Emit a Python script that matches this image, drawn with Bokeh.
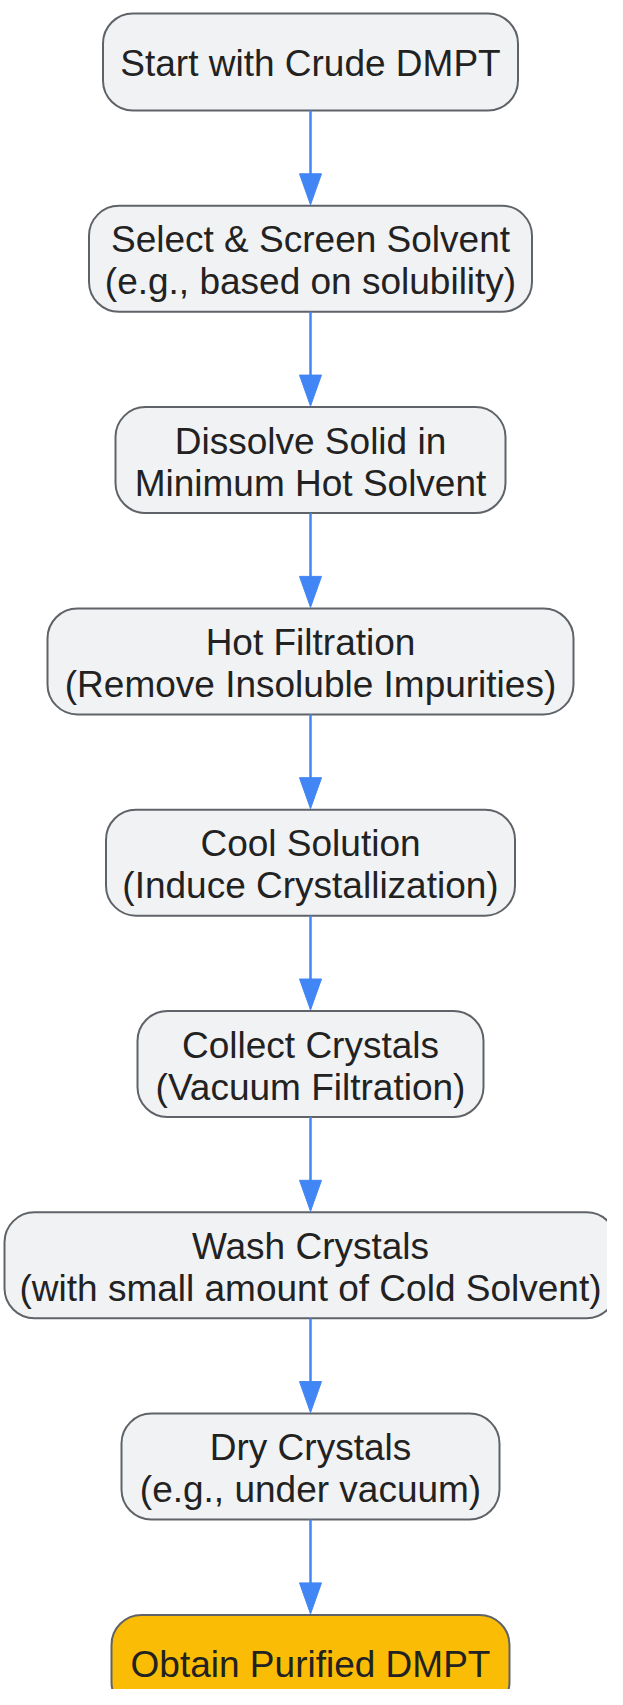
from bokeh.plotting import figure
from bokeh.models import Range1d, ColumnDataSource
from bokeh.core.properties import value
from bokeh.embed import file_html
from bokeh.resources import INLINE

# ---- data ----
steps = [
    ["Start with Crude DMPT"],
    ["Select & Screen Solvent", "(e.g., based on solubility)"],
    ["Dissolve Solid in", "Minimum Hot Solvent"],
    ["Hot Filtration", "(Remove Insoluble Impurities)"],
    ["Cool Solution", "(Induce Crystallization)"],
    ["Collect Crystals", "(Vacuum Filtration)"],
    ["Wash Crystals", "(with small amount of Cold Solvent)"],
    ["Dry Crystals", "(e.g., under vacuum)"],
    ["Obtain Purified DMPT"],
]
final_step = [False, False, False, False, False, False, False, False, True]

# ---- layout (pixel-like data units) ----
box_widths = [415, 443, 390, 526, 409, 346, 612, 378, 398]
CX = 310.0
TOP0 = 13.0
GAP = 95.3
H1, H2 = 97.0, 106.0
LINE_GAP = 42.0
FONT = "Liberation Sans"
FONT_SIZE = "37px"

FILL = "#F1F2F4"
FILL_FINAL = "#FBBC05"
BORDER = "#5F6368"
ARROW = "#4285F4"
TEXT = "#222222"

p = figure(width=607, height=1689, output_backend="svg", toolbar_location=None,
           x_range=Range1d(0, 607), y_range=Range1d(1689, 0), min_border=0)
p.axis.visible = False
p.grid.visible = False
p.outline_line_color = None
p.background_fill_color = "white"
p.border_fill_color = "white"

tops, heights = [], []
t = TOP0
for lines in steps:
    h = H1 if len(lines) == 1 else H2
    tops.append(t)
    heights.append(h)
    t += h + GAP

centers = [tp + h / 2 for tp, h in zip(tops, heights)]
fills = [FILL_FINAL if f else FILL for f in final_step]

box_src = ColumnDataSource(dict(x=[CX] * len(steps), y=centers, w=box_widths,
                                h=heights, fill=fills))
p.rect(x="x", y="y", width="w", height="h", source=box_src, fill_color="fill",
       line_color=BORDER, line_width=2, border_radius=30)

# text
tx, ty, tt = [], [], []
for lines, c in zip(steps, centers):
    if len(lines) == 1:
        tx.append(CX); ty.append(c + 1.5); tt.append(lines[0])
    else:
        tx.append(CX); ty.append(c - 19); tt.append(lines[0])
        tx.append(CX); ty.append(c - 19 + LINE_GAP); tt.append(lines[1])
p.text(x=tx, y=ty, text=tt, text_align="center", text_baseline="alphabetic",
       text_font=value(FONT), text_font_size=FONT_SIZE, text_color=TEXT)

# arrows
HEAD_L, HEAD_W = 31.0, 22.0
x0s, y0s, x1s, y1s, pxs, pys = [], [], [], [], [], []
for i in range(len(steps) - 1):
    y_start = tops[i] + heights[i]
    y_tip = tops[i + 1] - 1
    x0s.append(CX); y0s.append(y_start); x1s.append(CX); y1s.append(y_tip - HEAD_L + 2)
    pxs.append([CX - HEAD_W / 2, CX + HEAD_W / 2, CX])
    pys.append([y_tip - HEAD_L, y_tip - HEAD_L, y_tip])
p.segment(x0=x0s, y0=y0s, x1=x1s, y1=y1s, line_color=ARROW, line_width=2.5)
p.patches(xs=pxs, ys=pys, fill_color=ARROW, line_color=ARROW, line_width=1)

open("out.html", "w").write(file_html(p, INLINE))
